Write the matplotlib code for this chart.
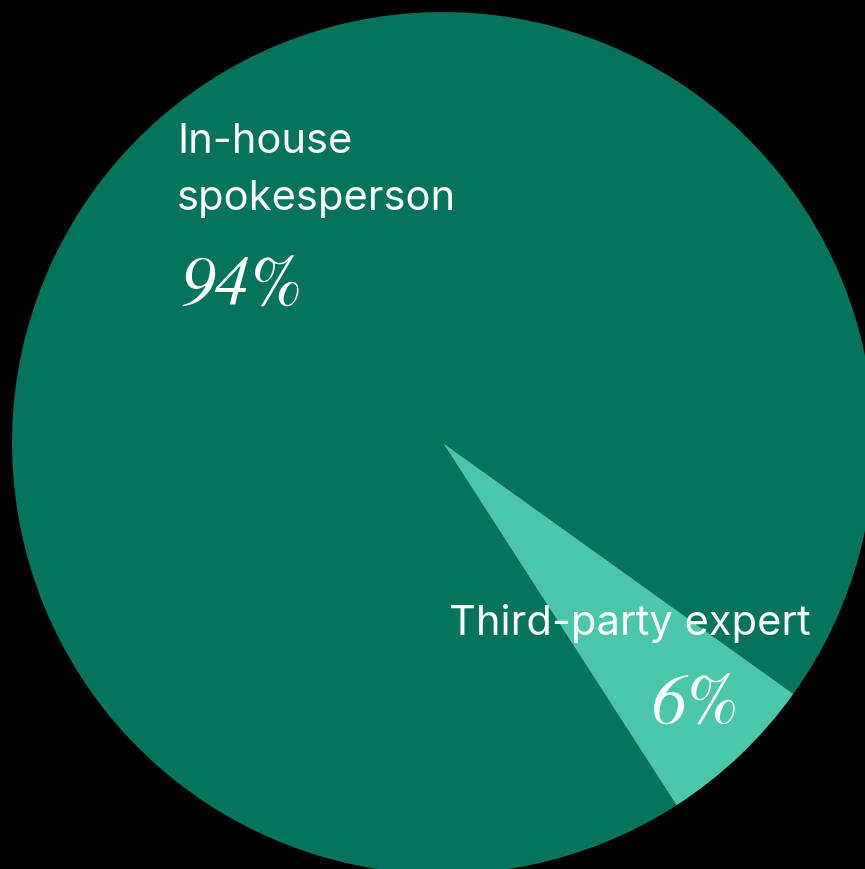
import matplotlib.pyplot as plt

# share of responses by spokesperson type
labels = ["In-house\nspokesperson", "Third-party expert"]
shares = [94, 6]
colors = ["#06735D", "#4AC6AB"]

W, H = 865, 869
fig = plt.figure(figsize=(W / 100, H / 100), dpi=100, facecolor="black")
ax = fig.add_axes([0, 0, 1, 1])
ax.set_facecolor("black")

ax.pie(
    shares,
    colors=colors,
    startangle=-35.6,
    counterclock=True,
    center=(443, H - 443),
    radius=431,
    wedgeprops={"linewidth": 0},
)
ax.set_xlim(0, W)
ax.set_ylim(0, H)
ax.set_aspect("auto")
ax.axis("off")

sans = {"family": "Inter", "color": "white", "fontsize": 30}
pct = {"family": "STIXGeneral", "style": "italic", "color": "white", "fontsize": 50}

# big slice label
ax.text(177, H - 153, "In-house", va="baseline", ha="left", **sans)
ax.text(177, H - 210, "spokesperson", va="baseline", ha="left", **sans)
ax.text(180, H - 306, f"{shares[0]}%", va="baseline", ha="left", **pct)

# small slice label
ax.text(449, H - 635, labels[1], va="baseline", ha="left", **sans)
ax.text(652, H - 724, f"{shares[1]}%", va="baseline", ha="left", **pct)

fig.savefig("out.png", dpi=100, facecolor="black")
